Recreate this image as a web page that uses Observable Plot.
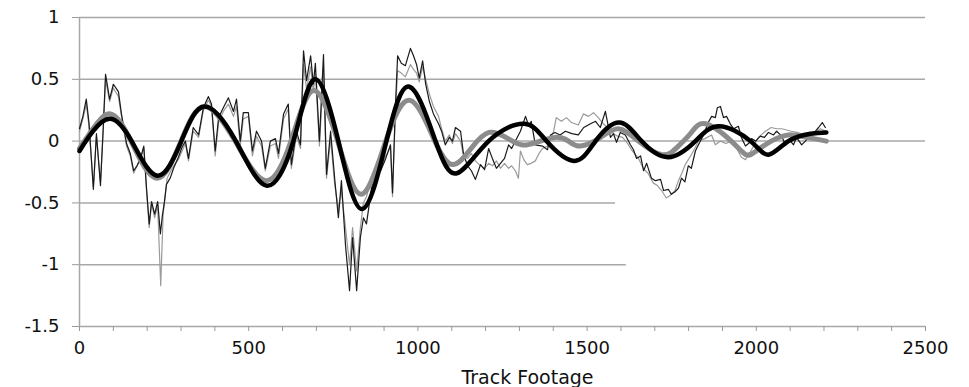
<!DOCTYPE html>
<html><head><meta charset="utf-8">
<script src="https://cdn.jsdelivr.net/npm/d3@7"></script>
<script src="https://cdn.jsdelivr.net/npm/@observablehq/plot@0.6"></script>
<style>body{margin:0;background:#fff} svg{font-family:"DejaVu Sans"}</style>
</head><body><div id="chart"></div>
<script>
// ---- data ----
const xMinorTicks = [0,100,200,300,400,500,600,700,800,900,1000,1100,1200,1300,1400,1500,1600,1700,1800,1900,2000,2100,2200,2300,2400,2500];
const xLabels = [0,500,1000,1500,2000,2500];
const yTicks = [1,0.5,0,-0.5,-1,-1.5];
const gridValues = [1,0.5,0,-0.5,-1];
const gridEnds = [2500,2500,2500,1584,1616];
const xTitle = "Track Footage";

const thinBlack = [[0,0.10],[10,0.2],[20,0.34],[28,0.15],[41,-0.39],[50,0.06],[62,-0.36],[70,0.1],[77,0.54],[89,0.34],[100,0.46],[115,0.40],[124,0.22],[139,-0.02],[150,-0.1],[160,-0.24],[170,-0.2],[180,-0.14],[190,-0.04],[198,-0.38],[206,-0.67],[213,-0.49],[222,-0.59],[231,-0.49],[239,-0.75],[245,-0.6],[251,-0.49],[257,-0.35],[268,-0.3],[278,-0.22],[292,-0.13],[303,-0.05],[313,0],[322,-0.14],[336,0.11],[352,0.05],[366,0.27],[381,0.36],[390,0.30],[401,-0.08],[411,0.19],[425,0.27],[440,0.35],[455,0.24],[464,0.34],[475,0.0],[484,0.23],[499,0.23],[511,-0.08],[523,0.08],[538,0],[549,-0.22],[564,0],[579,0.02],[588,-0.10],[603,0.22],[617,0.30],[626,-0.19],[641,0.08],[653,-0.03],[662,0.73],[671,0.49],[683,0.69],[691,0.46],[697,0.63],[709,0],[721,0.70],[730,-0.27],[742,0.08],[754,-0.30],[765,-0.62],[774,-0.32],[786,-0.84],[798,-1.21],[807,-0.78],[819,-1.21],[830,-0.78],[839,-0.62],[848,-0.67],[863,-0.38],[877,-0.24],[890,-0.24],[905,-0.14],[919,-0.03],[925,-0.42],[933,0.24],[940,0.69],[951,0.63],[963,0.61],[978,0.75],[987,0.69],[996,0.62],[1004,0.51],[1014,0.65],[1023,0.46],[1034,0.32],[1046,0.22],[1061,0.14],[1070,0.08],[1081,-0.03],[1093,0.03],[1102,0.0],[1111,0.11],[1126,0.08],[1135,-0.11],[1147,-0.20],[1158,-0.24],[1170,-0.31],[1185,-0.19],[1197,-0.23],[1209,-0.06],[1220,-0.14],[1232,-0.22],[1244,-0.18],[1256,-0.14],[1268,-0.03],[1277,-0.06],[1288,0],[1303,0.08],[1318,0.20],[1328,0.12],[1335,0.16],[1347,-0.03],[1368,-0.04],[1383,-0.07],[1392,0.05],[1405,0.07],[1420,0.05],[1436,0.08],[1455,0.06],[1474,0.05],[1490,0.11],[1510,0.14],[1525,0.16],[1539,0.11],[1554,0.24],[1569,0.03],[1578,0.06],[1587,-0.01],[1598,0.07],[1613,0.05],[1628,-0.03],[1637,-0.07],[1646,-0.14],[1658,-0.12],[1667,-0.24],[1676,-0.18],[1690,-0.30],[1702,-0.32],[1717,-0.31],[1726,-0.40],[1740,-0.39],[1749,-0.43],[1760,-0.41],[1770,-0.38],[1779,-0.30],[1789,-0.33],[1799,-0.20],[1808,-0.22],[1820,-0.08],[1829,-0.03],[1844,0.05],[1858,0.15],[1868,0.20],[1879,0.19],[1885,0.27],[1894,0.28],[1903,0.19],[1912,0.20],[1923,0.14],[1933,0.10],[1947,0.12],[1956,0.03],[1968,-0.04],[1977,-0.02],[1986,0.02],[1998,0],[2012,0.04],[2024,0.03],[2036,0.07],[2051,0.05],[2060,0.08],[2075,0.04],[2086,-0.03],[2101,0],[2110,-0.03],[2119,0.03],[2134,-0.03],[2145,0],[2160,0.05],[2175,0.08],[2184,0.11],[2195,0.15],[2204,0.11]];

const thinGray = [[0,0.08],[10,0.18],[20,0.3],[28,0.12],[41,-0.37],[50,0.04],[62,-0.33],[70,0.08],[77,0.5],[89,0.32],[100,0.43],[115,0.36],[124,0.2],[139,-0.04],[150,-0.12],[160,-0.26],[170,-0.2],[180,-0.15],[190,-0.06],[198,-0.4],[206,-0.7],[213,-0.5],[222,-0.62],[231,-0.52],[240,-1.17],[247,-0.6],[253,-0.45],[259,-0.3],[268,-0.25],[278,-0.2],[292,-0.15],[303,-0.08],[313,-0.02],[322,-0.16],[336,0.08],[352,0.03],[366,0.25],[381,0.33],[390,0.28],[401,-0.12],[411,0.15],[425,0.24],[440,0.3],[455,0.2],[464,0.28],[475,-0.04],[484,0.18],[499,0.2],[511,-0.12],[523,0.04],[538,-0.04],[549,-0.24],[564,-0.04],[579,-0.02],[588,-0.14],[603,0.18],[617,0.26],[626,-0.22],[641,0.04],[653,-0.06],[662,0.62],[671,0.42],[683,0.6],[691,0.4],[697,0.55],[709,-0.04],[721,0.55],[730,-0.3],[742,0.02],[754,-0.35],[765,-0.55],[774,-0.4],[786,-0.7],[798,-1.0],[807,-0.7],[819,-1.05],[830,-0.7],[839,-0.5],[848,-0.45],[863,-0.3],[877,-0.2],[890,-0.22],[905,-0.12],[919,-0.05],[925,-0.45],[933,0.2],[940,0.57],[951,0.55],[963,0.52],[978,0.62],[987,0.58],[996,0.55],[1004,0.48],[1014,0.6],[1023,0.5],[1034,0.38],[1046,0.28],[1061,0.2],[1070,0.1],[1081,0.0],[1093,0.05],[1102,-0.02],[1111,0.06],[1126,0.0],[1135,-0.12],[1147,-0.14],[1158,-0.1],[1170,-0.16],[1185,-0.2],[1197,-0.22],[1209,-0.18],[1220,-0.2],[1232,-0.16],[1244,-0.22],[1256,-0.18],[1268,-0.22],[1277,-0.2],[1288,-0.24],[1297,-0.30],[1303,-0.08],[1313,-0.15],[1323,-0.19],[1335,-0.18],[1347,-0.16],[1358,-0.1],[1368,-0.06],[1383,-0.04],[1392,0.02],[1401,0.08],[1409,0.19],[1424,0.16],[1439,0.19],[1454,0.15],[1474,0.13],[1489,0.22],[1504,0.20],[1519,0.23],[1533,0.19],[1548,0.14],[1563,0.10],[1578,0.06],[1590,0.04],[1605,0.03],[1620,-0.02],[1631,-0.07],[1640,-0.10],[1652,-0.14],[1666,-0.22],[1680,-0.26],[1696,-0.34],[1708,-0.36],[1720,-0.40],[1734,-0.46],[1745,-0.44],[1760,-0.4],[1770,-0.32],[1780,-0.26],[1790,-0.19],[1808,-0.11],[1820,-0.05],[1829,0.0],[1848,0.02],[1868,0.05],[1879,-0.03],[1894,0.0],[1910,-0.02],[1926,0.0],[1940,-0.05],[1956,-0.13],[1968,-0.15],[1986,-0.07],[2006,0.03],[2027,0.08],[2044,0.11],[2060,0.1],[2075,0.1],[2090,0.09],[2104,0.08],[2120,0.07],[2145,0.05],[2160,0.06],[2175,0.07],[2190,0.1],[2204,0.08]];

const thickGray = [[0,-0.06],[40,0.1],[92,0.22],[152,0.0],[228,-0.30],[300,0.0],[369,0.28],[460,0.0],[550,-0.32],[625,0.0],[691,0.41],[763,0.0],[833,-0.43],[905,0.0],[977,0.33],[1050,0.0],[1105,-0.19],[1160,-0.05],[1210,0.07],[1260,0.03],[1306,-0.03],[1350,-0.01],[1405,0.03],[1445,0.0],[1480,-0.04],[1540,0.03],[1593,0.10],[1652,0.0],[1722,-0.11],[1770,-0.04],[1808,0.07],[1850,0.14],[1926,0.0],[1970,-0.11],[2000,-0.08],[2044,0.0],[2095,0.05],[2150,0.03],[2207,0.0]];

const thickBlack = [[0,-0.08],[40,0.08],[92,0.18],[154,0.0],[230,-0.28],[301,0.0],[369,0.28],[462,0.0],[552,-0.36],[632,0.0],[695,0.50],[765,0.0],[835,-0.55],[907,0.0],[975,0.44],[1052,0.0],[1115,-0.26],[1209,0.0],[1315,0.14],[1380,0.0],[1462,-0.16],[1525,0.0],[1595,0.15],[1661,0.0],[1740,-0.13],[1820,0.0],[1890,0.12],[1983,0.0],[2036,-0.11],[2095,0.0],[2160,0.06],[2207,0.07]];

// ---- chart ----
const grid = gridValues.map((v, i) => ({v, end: gridEnds[i]}));
const X = d => d[0], Y = d => d[1];

const chart = Plot.plot({
  width: 969, height: 387,
  marginLeft: 79, marginRight: 44, marginTop: 17, marginBottom: 61,
  style: {fontFamily: "DejaVu Sans", fontSize: "18px", color: "#111", background: "#fff"},
  x: {domain: [0, 2500]},
  y: {domain: [-1.5, 1]},
  marks: [
    Plot.ruleY(grid, {y: "v", x1: 0, x2: "end", stroke: "#a8a8a8", strokeWidth: 1.5}),
    Plot.ruleY([-1.5], {x1: 0, x2: 2500, stroke: "#a8a8a8", strokeWidth: 1.5}),
    Plot.ruleX([0], {y1: -1.5, y2: 1, stroke: "#a8a8a8", strokeWidth: 1.5}),
    Plot.axisX({ticks: xMinorTicks, tickSize: 5, tickFormat: () => "", label: null, stroke: "#999"}),
    Plot.axisX({ticks: xLabels, tickSize: 0, tickPadding: 15, tickFormat: d => String(d), label: null, fill: "#111"}),
    Plot.axisY({ticks: yTicks, tickSize: 7, tickPadding: 13, tickFormat: d => String(d), label: null, stroke: "#999", fill: "#111"}),
    Plot.text([xTitle], {frameAnchor: "bottom", dx: 25, dy: 44, lineAnchor: "top", fontSize: 19, fill: "#111"}),
    Plot.line(thinGray, {x: X, y: Y, stroke: "#9a9a9a", strokeWidth: 1.2}),
    Plot.line(thinBlack, {x: X, y: Y, stroke: "#1a1a1a", strokeWidth: 1.2}),
    Plot.line(thickGray, {x: X, y: Y, stroke: "#8c8c8c", strokeWidth: 5, curve: "natural"}),
    Plot.line(thickBlack, {x: X, y: Y, stroke: "#000", strokeWidth: 4.5, curve: "natural"})
  ]
});
document.getElementById("chart").appendChild(chart);
</script>
</body></html>
